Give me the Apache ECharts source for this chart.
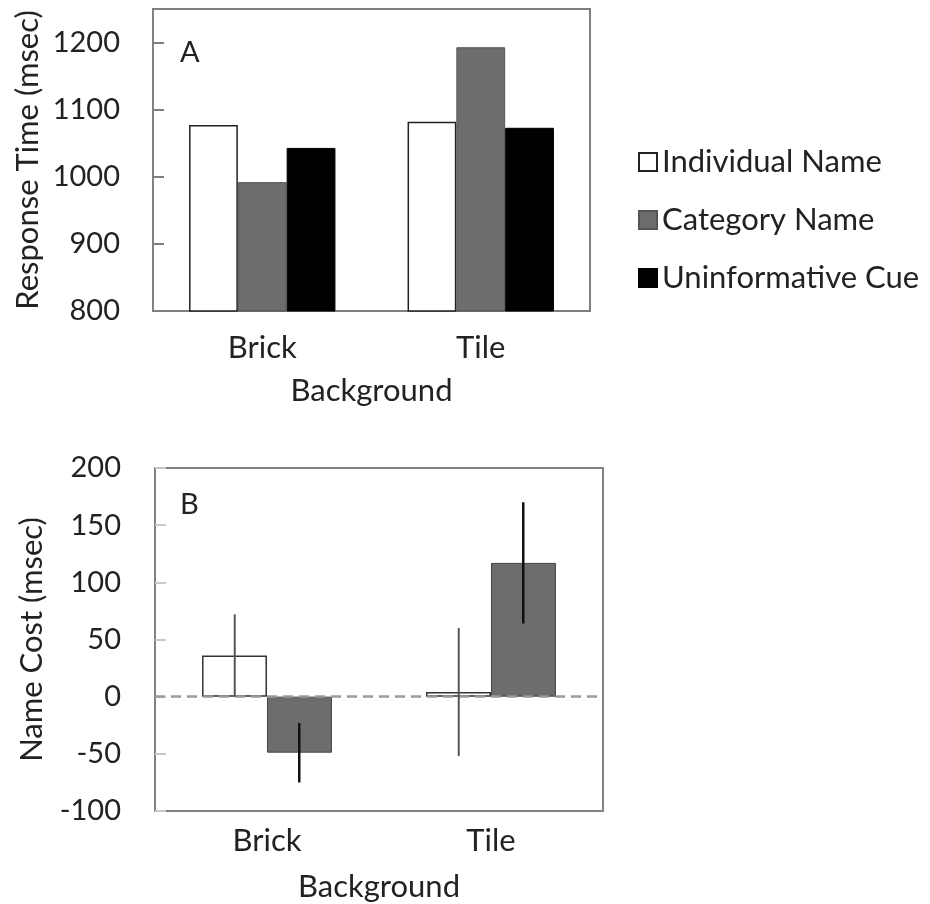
<!DOCTYPE html>
<html>
<head>
<meta charset="utf-8">
<script src="https://cdn.jsdelivr.net/npm/echarts@6/dist/echarts.min.js"></script>
<style>
  html, body { margin: 0; padding: 0; background: #fff; }
  #chart { width: 930px; height: 904px; }
</style>
</head>
<body>
<div id="chart"></div>
<script>
const categories = ['Brick', 'Tile'];
const seriesNames = ['Individual Name', 'Category Name', 'Uninformative Cue'];

// panel A: response time (msec)
const rtIndividual = [1077, 1082];
const rtCategory = [992, 1193];
const rtUninformative = [1043, 1073];

// panel B: name cost (msec) with error bars
const costIndividual = [36, 4];
const costCategory = [-49, 117];
const errIndividual = [36, 56];
const errCategory = [26, 53];

const font = 'Lato';
const textColor = '#222';
const grayFill = '#6d6d6d';

const chart = echarts.init(document.getElementById('chart'));

const errData = (means, errs) => means.map((m, i) => [i, m - errs[i], m + errs[i]]);

// error bar drawn at the centre of its bar (side = -1 left bar, +1 right bar)
const errRender = (side, color, width) => (params, api) => {
  const i = api.value(0);
  const low = api.coord([i, api.value(1)]);
  const high = api.coord([i, api.value(2)]);
  const barW = api.size([1, 0])[0] * 0.288;
  const x = low[0] + side * barW / 2;
  return {
    type: 'line',
    shape: { x1: x, y1: low[1], x2: x, y2: high[1] },
    style: { stroke: color, lineWidth: width }
  };
};

// words a bit larger than the digits, like the original
const wordStyle = { fontFamily: font, fontSize: 31, color: textColor };
const numStyle = { fontFamily: font, fontSize: 29, color: textColor };

const option = {
  animation: false,
  backgroundColor: '#fff',
  textStyle: { fontFamily: font },
  legend: {
    data: seriesNames,
    orient: 'vertical',
    left: 633,
    top: 141,
    itemWidth: 18,
    itemHeight: 18,
    itemGap: 26,
    icon: 'rect',
    textStyle: { fontFamily: font, fontSize: 31, color: textColor, lineHeight: 32 },
    selectedMode: false
  },
  graphic: [
    { type: 'text', left: 180, top: 38, style: { text: 'A', font: '29px Lato', fill: textColor } },
    { type: 'text', left: 180, top: 490, style: { text: 'B', font: '29px Lato', fill: textColor } }
  ],
  grid: [
    { left: 153, top: 9, width: 437, height: 302, show: true, borderColor: '#808080', borderWidth: 2 },
    { left: 155, top: 468, width: 448, height: 343, show: true, borderColor: '#808080', borderWidth: 2 }
  ],
  xAxis: [
    {
      gridIndex: 0, type: 'category', data: categories,
      name: 'Background', nameLocation: 'middle', nameGap: 64, nameTextStyle: wordStyle,
      axisLine: { show: false }, axisTick: { show: false },
      axisLabel: Object.assign({ margin: 21 }, wordStyle)
    },
    {
      gridIndex: 1, type: 'category', data: categories,
      name: 'Background', nameLocation: 'middle', nameGap: 60, nameTextStyle: wordStyle,
      axisLine: { show: false }, axisTick: { show: false },
      axisLabel: Object.assign({ margin: 14 }, wordStyle)
    }
  ],
  yAxis: [
    {
      gridIndex: 0, type: 'value', min: 800, max: 1250, interval: 100,
      name: 'Response Time (msec)', nameLocation: 'middle', nameGap: 110, nameTextStyle: wordStyle,
      axisLine: { show: false },
      axisTick: { show: true, inside: true, length: 11, lineStyle: { color: '#808080', width: 2 } },
      splitLine: { show: false },
      axisLabel: Object.assign({ margin: 33, formatter: v => (v > 1200 ? '' : String(v)) }, numStyle)
    },
    {
      gridIndex: 1, type: 'value', min: -100, max: 200, interval: 50,
      name: 'Name Cost (msec)', nameLocation: 'middle', nameGap: 108, nameTextStyle: wordStyle,
      axisLine: { show: false },
      axisTick: { show: true, inside: true, length: 11, lineStyle: { color: '#c8c8c8', width: 2 } },
      splitLine: { show: false },
      axisLabel: Object.assign({ margin: 34 }, numStyle)
    }
  ],
  series: [
    {
      name: seriesNames[0], type: 'bar', xAxisIndex: 0, yAxisIndex: 0, data: rtIndividual,
      barGap: '0%', barCategoryGap: '33%',
      itemStyle: { color: '#fff', borderColor: '#222', borderWidth: 1.5 }
    },
    {
      name: seriesNames[1], type: 'bar', xAxisIndex: 0, yAxisIndex: 0, data: rtCategory,
      barGap: '0%', barCategoryGap: '33%',
      itemStyle: { color: grayFill, borderColor: '#555', borderWidth: 1 }
    },
    {
      name: seriesNames[2], type: 'bar', xAxisIndex: 0, yAxisIndex: 0, data: rtUninformative,
      barGap: '0%', barCategoryGap: '33%',
      itemStyle: { color: '#000', borderColor: '#000', borderWidth: 1 }
    },
    {
      name: seriesNames[0], type: 'bar', xAxisIndex: 1, yAxisIndex: 1, data: costIndividual,
      barGap: '0%', barCategoryGap: '42%',
      itemStyle: { color: '#fff', borderColor: '#333', borderWidth: 1.5 }
    },
    {
      name: seriesNames[1], type: 'bar', xAxisIndex: 1, yAxisIndex: 1, data: costCategory,
      barGap: '0%', barCategoryGap: '42%',
      itemStyle: { color: grayFill, borderColor: '#444', borderWidth: 1 },
      markLine: {
        silent: true, symbol: 'none', label: { show: false },
        lineStyle: { color: '#9a9a9a', type: [10, 6], width: 2.5 },
        data: [{ yAxis: 0 }]
      }
    },
    {
      type: 'custom', xAxisIndex: 1, yAxisIndex: 1, z: 5,
      data: errData(costIndividual, errIndividual),
      renderItem: errRender(-1, '#555', 2)
    },
    {
      type: 'custom', xAxisIndex: 1, yAxisIndex: 1, z: 5,
      data: errData(costCategory, errCategory),
      renderItem: errRender(1, '#111', 2.5)
    }
  ]
};

chart.setOption(option);
</script>
</body>
</html>
